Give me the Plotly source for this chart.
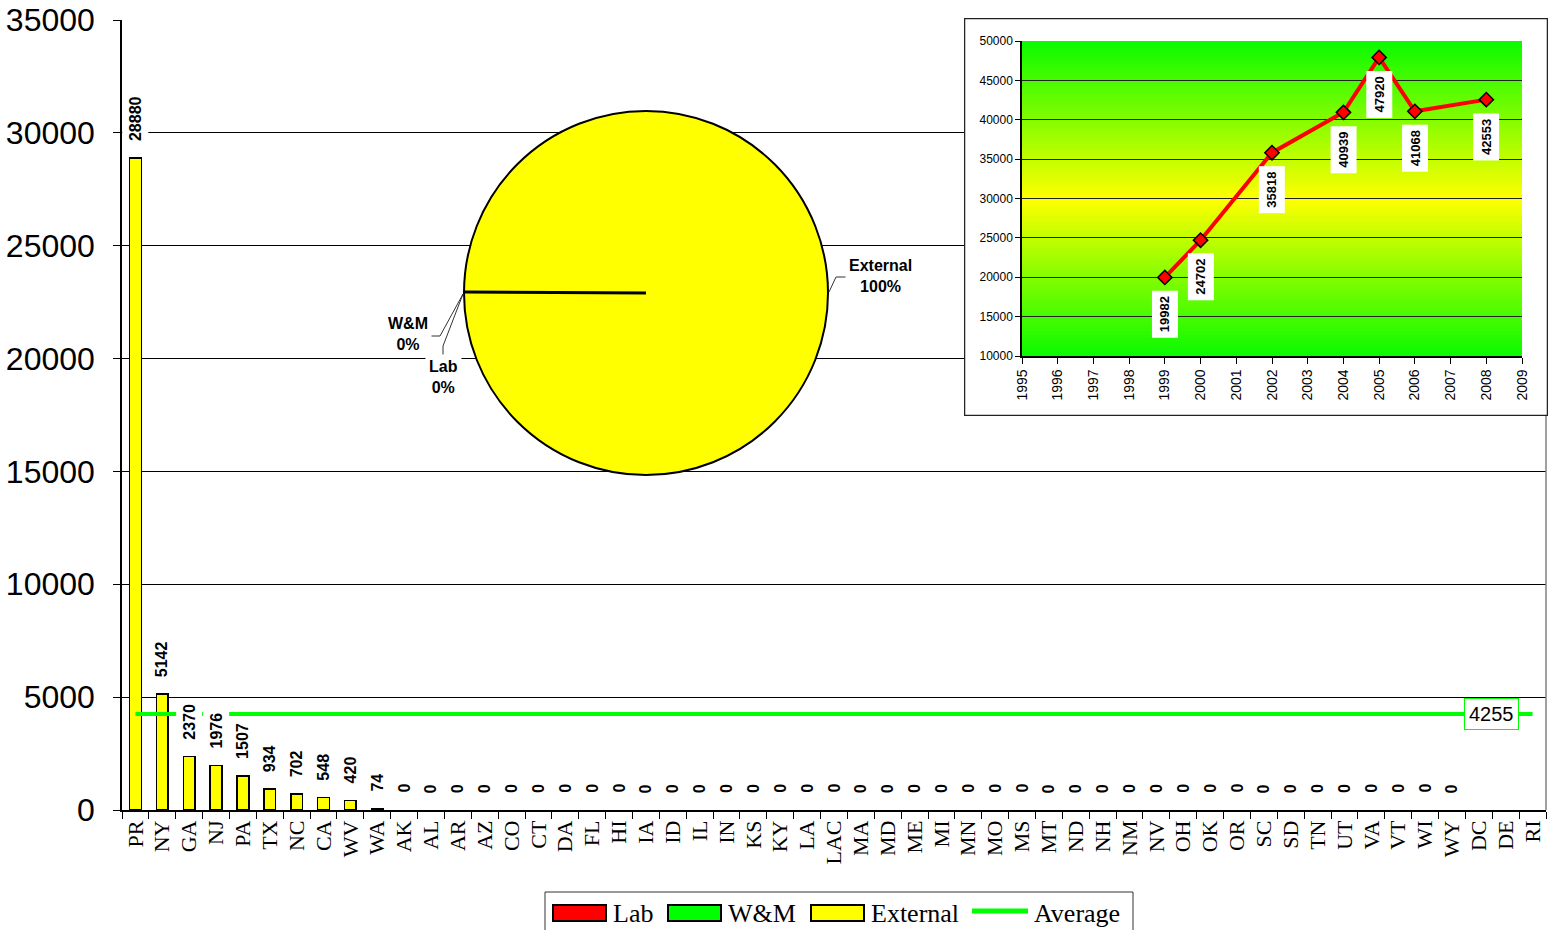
import plotly.graph_objects as go

# ---------------- data ----------------
states = ["PR", "NY", "GA", "NJ", "PA", "TX", "NC", "CA", "WV", "WA",
          "AK", "AL", "AR", "AZ", "CO", "CT", "DA", "FL", "HI", "IA",
          "ID", "IL", "IN", "KS", "KY", "LA", "LAC", "MA", "MD", "ME",
          "MI", "MN", "MO", "MS", "MT", "ND", "NH", "NM", "NV", "OH",
          "OK", "OR", "SC", "SD", "TN", "UT", "VA", "VT", "WI", "WY",
          "DC", "DE", "RI"]

external_values = [28880, 5142, 2370, 1976, 1507, 934, 702, 548, 420, 74,
                   0, 0, 0, 0, 0, 0, 0, 0, 0, 0,
                   0, 0, 0, 0, 0, 0, 0, 0, 0, 0,
                   0, 0, 0, 0, 0, 0, 0, 0, 0, 0,
                   0, 0, 0, 0, 0, 0, 0, 0, 0, 0,
                   None, None, None]
lab_values = [0, 0, 0, 0, 0, 0, 0, 0, 0, 0,
              0, 0, 0, 0, 0, 0, 0, 0, 0, 0,
              0, 0, 0, 0, 0, 0, 0, 0, 0, 0,
              0, 0, 0, 0, 0, 0, 0, 0, 0, 0,
              0, 0, 0, 0, 0, 0, 0, 0, 0, 0,
              None, None, None]
wm_values = [0, 0, 0, 0, 0, 0, 0, 0, 0, 0,
             0, 0, 0, 0, 0, 0, 0, 0, 0, 0,
             0, 0, 0, 0, 0, 0, 0, 0, 0, 0,
             0, 0, 0, 0, 0, 0, 0, 0, 0, 0,
             0, 0, 0, 0, 0, 0, 0, 0, 0, 0,
             None, None, None]
average_value = 4255

pie_labels = ["Lab", "W&M", "External"]

years = [1999, 2000, 2002, 2004, 2005, 2006, 2008]
year_totals = [19982, 24702, 35818, 40939, 47920, 41068, 42553]

main_ticks = [0, 5000, 10000, 15000, 20000, 25000, 30000, 35000]
inset_ticks = [10000, 15000, 20000, 25000, 30000, 35000, 40000, 45000, 50000]
inset_years = list(range(1995, 2010))

legend_names = ["Lab", "W&M", "External", "Average"]

# ---------------- layout helpers (pixel -> paper) ----------------
W, H = 1556, 930
def px(x):
    return x / W
def py(y):
    return 1 - y / H

ARIAL = "Liberation Sans, Arial, sans-serif"
TIMES = "Liberation Serif, Times New Roman, serif"
YELLOW = "#FFFF00"
RED = "#FF0000"
GREEN = "#00FF00"

def nonzero(vals):
    # zero-height bars are not drawn in the original chart
    return [v if v else None for v in vals]

fig = go.Figure()

# main stacked bars
fig.add_trace(go.Bar(x=states, y=nonzero(lab_values), name="Lab", showlegend=False,
                     marker=dict(color=RED, line=dict(color="black", width=1.5))))
fig.add_trace(go.Bar(x=states, y=nonzero(wm_values), name="W&M", showlegend=False,
                     marker=dict(color=GREEN, line=dict(color="black", width=1.5))))
fig.add_trace(go.Bar(x=states, y=nonzero(external_values), name="External", showlegend=False,
                     marker=dict(color=YELLOW, line=dict(color="black", width=1.5))))
fig.add_trace(go.Scatter(x=[states[0], states[-1]], y=[average_value, average_value],
                         name="Average", mode="lines", showlegend=False,
                         line=dict(color=GREEN, width=4)))

# pie
pie_values = [sum(v for v in lab_values if v), sum(v for v in wm_values if v),
              sum(v for v in external_values if v)]
fig.add_trace(go.Pie(labels=pie_labels, values=pie_values, sort=False,
                     marker=dict(colors=[RED, GREEN, YELLOW], line=dict(color="black", width=2)),
                     textinfo="none", showlegend=False, hoverinfo="skip",
                     domain=dict(x=[px(464), px(828)], y=[py(475), py(111)])))

# inset box subplot (x2/y2) - dummy trace
fig.add_trace(go.Scatter(x=[None], y=[None], xaxis="x2", yaxis="y2",
                         showlegend=False, hoverinfo="skip"))

# inset line chart (x3/y3)
fig.add_trace(go.Scatter(x=years, y=year_totals, xaxis="x3", yaxis="y3",
                         mode="lines+markers", showlegend=False,
                         line=dict(color=RED, width=4),
                         marker=dict(symbol="diamond", size=11, color=RED,
                                     line=dict(color="black", width=1.5))))

shapes = []
# inset white box
shapes.append(dict(type="rect", xref="x2", yref="y2", x0=0, x1=1, y0=0, y1=1,
                   fillcolor="white", line=dict(color="#222222", width=2.5), layer="below"))
# inset gradient background
n_bands = 90
band_h = (inset_ticks[-1] - inset_ticks[0]) / n_bands
for i in range(n_bands):
    t = (i + 0.5) / n_bands
    d = abs(t - 0.5) * 2
    r = round(255 * (1 - d) + 10 * d)
    g = round(255 * (1 - d) + 250 * d)
    shapes.append(dict(type="rect", xref="x3", yref="y3",
                       x0=inset_years[0], x1=inset_years[-1],
                       y0=inset_ticks[0] + i * band_h, y1=inset_ticks[0] + (i + 1) * band_h + band_h * 0.5,
                       fillcolor=f"rgb({r},{g},0)", line=dict(width=0), layer="below"))
# pie slice boundary line
shapes.append(dict(type="line", xref="paper", yref="paper",
                   x0=px(646), y0=py(293), x1=px(464), y1=py(292),
                   line=dict(color="black", width=3), layer="above"))
# pie leader lines
leader_paths = [
    [(847, 277), (836, 277), (829, 292)],
    [(431, 336), (440, 336), (463, 294)],
    [(443, 358), (443, 346), (463, 294)],
]
for path in leader_paths:
    for (xa, ya), (xb, yb) in zip(path[:-1], path[1:]):
        shapes.append(dict(type="line", xref="paper", yref="paper",
                           x0=px(xa), y0=py(ya), x1=px(xb), y1=py(yb),
                           line=dict(color="#333333", width=1), layer="above"))
# right border of main plot (below the inset)
shapes.append(dict(type="line", xref="paper", yref="paper",
                   x0=px(1546), x1=px(1546), y0=py(416), y1=py(810),
                   line=dict(color="#808080", width=1.5), layer="above"))

annotations = []
# bar value labels
for s, v in zip(states, external_values):
    if v is None:
        continue
    annotations.append(dict(x=s, y=v, xref="x", yref="y", text=f"<b>{v}</b>",
                            textangle=-90, showarrow=False, yanchor="bottom",
                            yshift=12, bgcolor="white", borderpad=4,
                            font=dict(family=ARIAL, size=16, color="black")))
# average label
annotations.append(dict(x=states[-1], y=average_value, xref="x", yref="y",
                        text=f"{average_value}", showarrow=False, xanchor="right",
                        xshift=-14, bgcolor="white", bordercolor=GREEN, borderwidth=1,
                        borderpad=4, font=dict(family=ARIAL, size=20, color="black")))
# pie labels
pie_total = sum(pie_values)
pie_label_pos = {"External": (880, 276), "W&M": (408, 334), "Lab": (443, 377)}
for lbl, val in zip(pie_labels, pie_values):
    xx, yy = pie_label_pos[lbl]
    annotations.append(dict(x=px(xx), y=py(yy), xref="paper", yref="paper",
                            xanchor="center", yanchor="middle",
                            text=f"<b>{lbl}<br>{val / pie_total:.0%}</b>",
                            showarrow=False, bgcolor="white", borderpad=3,
                            font=dict(family=ARIAL, size=16, color="black")))
# inset value labels
for yr, v in zip(years, year_totals):
    annotations.append(dict(x=yr, y=v, xref="x3", yref="y3", text=f"<b>{v}</b>",
                            textangle=-90, showarrow=False, yanchor="top",
                            yshift=-13, bgcolor="white", borderpad=5,
                            font=dict(family=ARIAL, size=13, color="black")))

# custom legend (large swatches as in the original)
shapes.append(dict(type="rect", xref="paper", yref="paper",
                   x0=px(545), x1=px(1133), y0=py(945), y1=py(892),
                   fillcolor="white", line=dict(color="#333333", width=1), layer="above"))
legend_colors = [RED, GREEN, YELLOW, GREEN]
swatch_left = [553, 668, 811, 972]
for name, col, xl in zip(legend_names, legend_colors, swatch_left):
    if name == "Average":
        shapes.append(dict(type="line", xref="paper", yref="paper",
                           x0=px(xl), x1=px(xl + 56), y0=py(911), y1=py(911),
                           line=dict(color=col, width=5), layer="above"))
    else:
        shapes.append(dict(type="rect", xref="paper", yref="paper",
                           x0=px(xl), x1=px(xl + 53), y0=py(921), y1=py(905),
                           fillcolor=col, line=dict(color="black", width=2), layer="above"))
    annotations.append(dict(x=px(xl + 58 if name != "Average" else xl + 60), y=py(913),
                            xref="paper", yref="paper", xanchor="left", yanchor="middle",
                            text=name, showarrow=False,
                            font=dict(family=TIMES, size=26, color="black")))

fig.update_layout(
    template="none",
    width=W, height=H,
    margin=dict(l=0, r=0, t=0, b=0, autoexpand=False),
    paper_bgcolor="white", plot_bgcolor="rgba(0,0,0,0)",
    barmode="stack", bargap=0.565,
    showlegend=False,
    xaxis=dict(domain=[px(122), px(1546)], range=[-0.5, len(states) - 0.5],
               type="category", tickangle=-90, tickson="boundaries",
               ticks="outside", ticklen=7, tickcolor="black", tickwidth=1,
               showline=True, linecolor="black", linewidth=1.5, showgrid=False,
               zeroline=False, anchor="y",
               tickfont=dict(family=TIMES, size=22, color="black")),
    yaxis=dict(domain=[py(810), py(20)], range=[0, 35000], tickvals=main_ticks,
               tickformat="d",
               ticks="outside", ticklen=7, tickcolor="black",
               showline=True, linecolor="black", linewidth=1.5,
               showgrid=True, gridcolor="black", gridwidth=1, zeroline=False,
               anchor="x", ticklabelstandoff=12,
               tickfont=dict(family=ARIAL, size=32, color="black")),
    xaxis2=dict(domain=[px(964), px(1548)], range=[0, 1], anchor="y2",
                visible=False, fixedrange=True),
    yaxis2=dict(domain=[py(416), py(18)], range=[0, 1], anchor="x2",
                visible=False, fixedrange=True),
    xaxis3=dict(domain=[px(1022), px(1522)], range=[inset_years[0], inset_years[-1]],
                tickvals=inset_years, tickformat="d", tickangle=-90, ticks="outside", ticklen=6,
                tickcolor="black", showline=True, linecolor="black", linewidth=1.5,
                showgrid=False, zeroline=False, anchor="y3",
                tickfont=dict(family=ARIAL, size=14, color="black")),
    yaxis3=dict(domain=[py(356), py(41)], range=[inset_ticks[0], inset_ticks[-1]],
                tickvals=inset_ticks, tickformat="d", ticks="outside", ticklen=5, tickcolor="black",
                showline=True, linecolor="black", linewidth=1.5,
                showgrid=True, gridcolor="#222222", gridwidth=1, zeroline=False,
                anchor="x3",
                tickfont=dict(family=ARIAL, size=12, color="black")),
    shapes=shapes,
    annotations=annotations,
)

fig.write_html("out.html", config={"displayModeBar": False},
               post_script="document.body.style.margin='0';")
